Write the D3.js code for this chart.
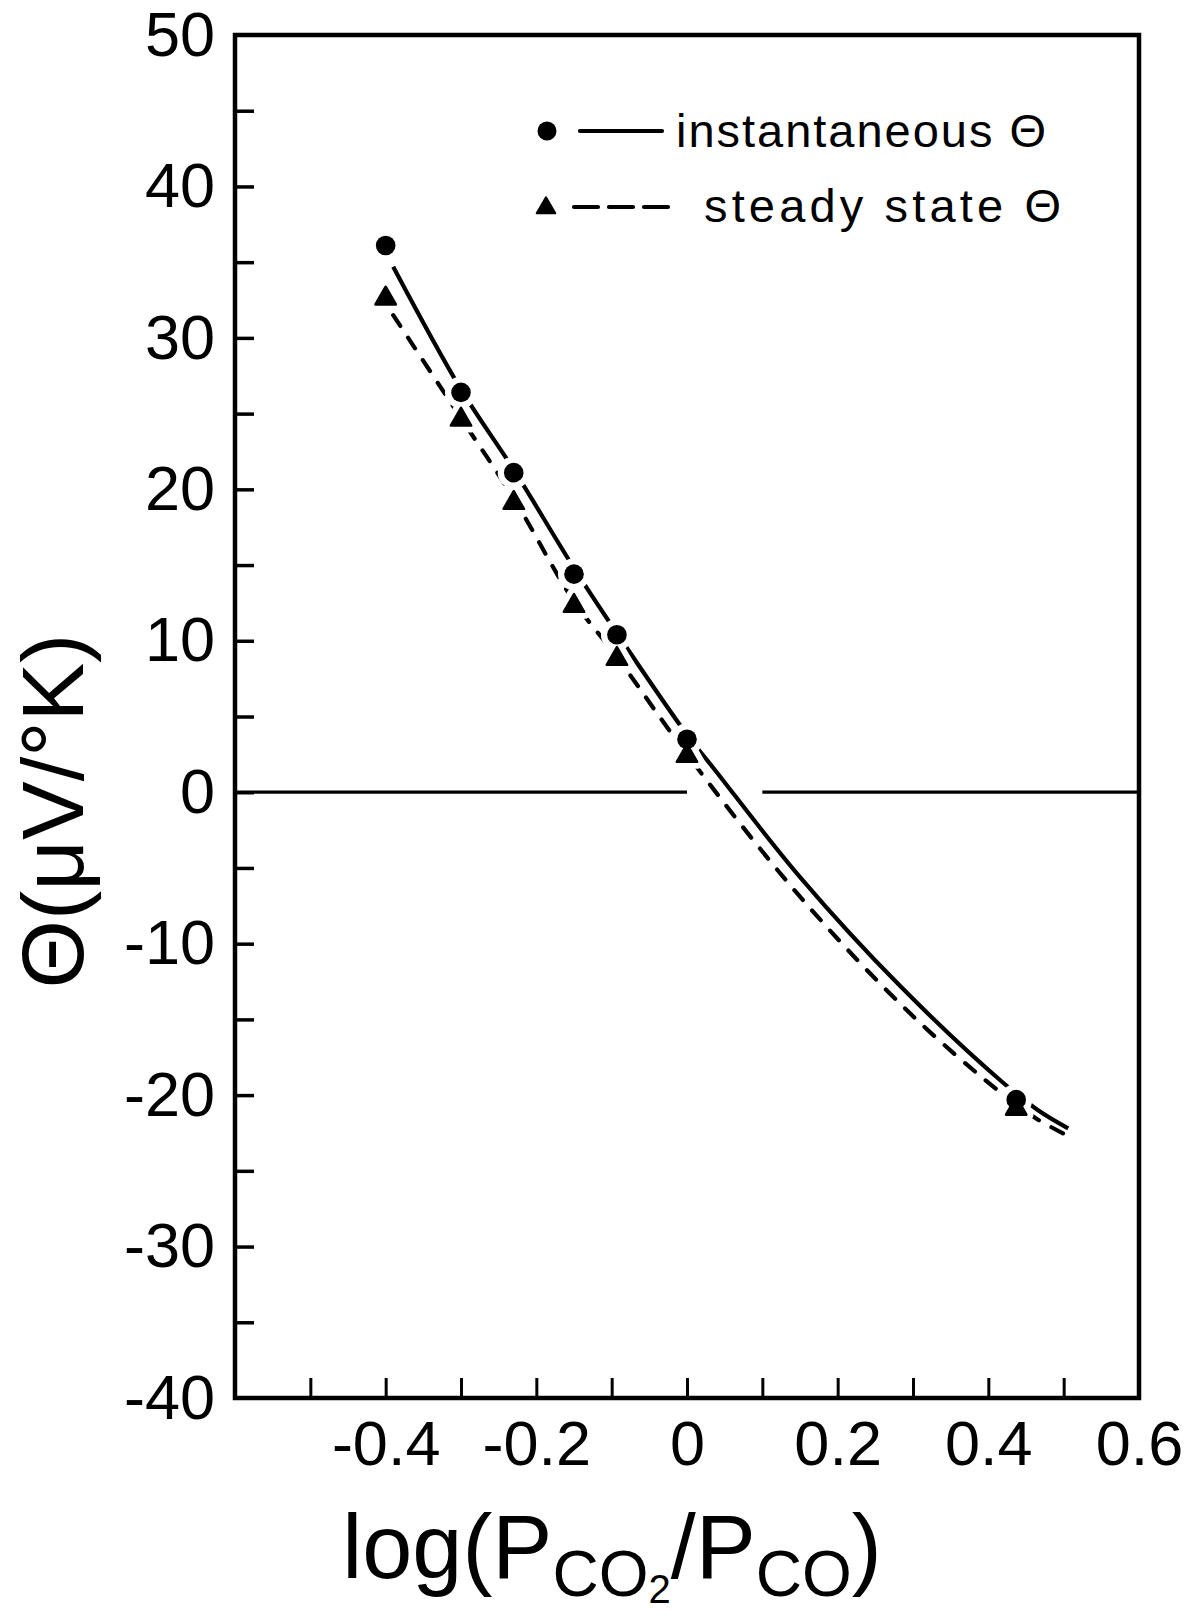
<!DOCTYPE html>
<html>
<head>
<meta charset="utf-8">
<script src="https://cdn.jsdelivr.net/npm/d3@7"></script>
<style>
  html, body { margin: 0; padding: 0; background: #fff; }
  text { font-family: "Liberation Sans", Arial, sans-serif; fill: #000; }
</style>
</head>
<body>
<script>
// measured points, log(Pco2/Pco) vs theta (uV/K)
const pointX        = [-0.40, -0.30, -0.23, -0.15, -0.093, 0.0, 0.437];
const instantaneous = [36.1, 26.4, 21.1, 14.4, 10.4, 3.5, -20.3];
const steadyState   = [32.6, 24.6, 19.1, 12.3, 8.8, 2.4, -20.9];

// hand drawn curves
const instCurveX   = [-0.39, -0.30, -0.23, -0.15, -0.093, 0.0, 0.035, 0.15, 0.283, 0.42, 0.466, 0.506];
const instCurveY   = [34.7, 26.6, 21.3, 14.8, 10.5, 3.8, 1.6, -5.6, -12.8, -19.2, -21.0, -22.2];
const steadyCurveX = [-0.39, -0.30, -0.23, -0.15, -0.094, 0.0, 0.15, 0.296, 0.413, 0.462, 0.502];
const steadyCurveY = [31.5, 24.7, 19.4, 12.6, 9.0, 2.5, -6.9, -14.6, -19.7, -21.5, -22.6];

// zero reference line (broken where the curves cross)
const zeroSegments = [[-0.6, 0.0], [0.1, 0.6]];

const xTicks  = [-0.5, -0.4, -0.3, -0.2, -0.1, 0, 0.1, 0.2, 0.3, 0.4, 0.5];
const xLabels = [-0.4, -0.2, 0, 0.2, 0.4, 0.6];
const yTicks  = [-35, -30, -25, -20, -15, -10, -5, 0, 5, 10, 15, 20, 25, 30, 35, 40, 45];
const yLabels = [-40, -30, -20, -10, 0, 10, 20, 30, 40, 50];

const W = 1195, H = 1616;
const frame = {left: 235, top: 35, right: 1139, bottom: 1398};

const svg = d3.select("body").append("svg")
  .attr("width", W).attr("height", H);

const x = d3.scaleLinear().domain([-0.6, 0.6]).range([frame.left, frame.right]);
const y = d3.scaleLinear().domain([-40, 50]).range([frame.bottom, frame.top]);

// axes: inward ticks, big labels
svg.append("g")
  .attr("transform", `translate(0,${frame.bottom})`)
  .call(d3.axisBottom(x).tickValues(xTicks).tickSize(-20).tickFormat(""))
  .call(g => g.select(".domain").remove())
  .selectAll("line").attr("stroke-width", 3);

svg.append("g")
  .attr("transform", `translate(0,${frame.bottom})`)
  .call(d3.axisBottom(x).tickValues(xLabels).tickSize(0).tickPadding(22).tickFormat(d => String(d)))
  .call(g => g.select(".domain").remove())
  .selectAll("text").attr("font-size", 63);

svg.append("g")
  .attr("transform", `translate(${frame.left},0)`)
  .call(d3.axisLeft(y).tickValues(yTicks).tickSize(-19).tickFormat(""))
  .call(g => g.select(".domain").remove())
  .selectAll("line").attr("stroke-width", 3.5);

svg.append("g")
  .attr("transform", `translate(${frame.left},0)`)
  .call(d3.axisLeft(y).tickValues(yLabels).tickSize(0).tickPadding(20).tickFormat(d => String(d)))
  .call(g => g.select(".domain").remove())
  .selectAll("text").attr("font-size", 63);

// frame
svg.append("rect")
  .attr("x", frame.left).attr("y", frame.top)
  .attr("width", frame.right - frame.left).attr("height", frame.bottom - frame.top)
  .attr("fill", "none").attr("stroke", "#000").attr("stroke-width", 4.5);

// zero line
const seg = d3.line().x(d => x(d)).y(() => y(0));
svg.selectAll(".zero").data(zeroSegments).enter().append("path")
  .attr("d", seg)
  .attr("fill", "none").attr("stroke", "#000").attr("stroke-width", 3.2);

// curves
const curve = d3.line().x(d => x(d[0])).y(d => y(d[1])).curve(d3.curveCatmullRom);
svg.append("path")
  .attr("d", curve(d3.zip(instCurveX, instCurveY)))
  .attr("fill", "none").attr("stroke", "#000").attr("stroke-width", 4.2);
svg.append("path")
  .attr("d", curve(d3.zip(steadyCurveX, steadyCurveY)))
  .attr("fill", "none").attr("stroke", "#000").attr("stroke-width", 4.2)
  .attr("stroke-linecap", "round").attr("stroke-dasharray", "13,14");

// markers, with a white halo so lines break around them
const tri = d3.symbol().type(d3.symbolTriangle).size(180);
const circPts = d3.zip(pointX, instantaneous);
const triPts = d3.zip(pointX, steadyState);

svg.selectAll(".haloC").data(circPts).enter().append("circle")
  .attr("cx", d => x(d[0])).attr("cy", d => y(d[1])).attr("r", 16)
  .attr("fill", "#fff");
svg.selectAll(".haloT").data(triPts).enter().append("path")
  .attr("d", tri).attr("transform", d => `translate(${x(d[0])},${y(d[1])})`)
  .attr("fill", "#fff").attr("stroke", "#fff").attr("stroke-width", 14).attr("stroke-linejoin", "round");

svg.selectAll(".dot").data(circPts).enter().append("circle")
  .attr("cx", d => x(d[0])).attr("cy", d => y(d[1])).attr("r", 9.8)
  .attr("fill", "#000");
svg.selectAll(".tri").data(triPts).enter().append("path")
  .attr("d", tri).attr("transform", d => `translate(${x(d[0])},${y(d[1])})`)
  .attr("fill", "#000").attr("stroke", "#000").attr("stroke-width", 2.5).attr("stroke-linejoin", "round");

// legend
const leg = svg.append("g");
leg.append("circle").attr("cx", 547).attr("cy", 131).attr("r", 9.5).attr("fill", "#000");
leg.append("line").attr("x1", 580).attr("x2", 662).attr("y1", 131).attr("y2", 131)
  .attr("stroke", "#000").attr("stroke-width", 4.2).attr("stroke-linecap", "round");
leg.append("text").attr("x", 676).attr("y", 147).attr("font-size", 47)
  .attr("textLength", 370).attr("lengthAdjust", "spacing").text("instantaneous \u0398");

leg.append("path").attr("d", d3.symbol().type(d3.symbolTriangle).size(150))
  .attr("transform", "translate(546,208)").attr("fill", "#000")
  .attr("stroke", "#000").attr("stroke-width", 2).attr("stroke-linejoin", "round");
leg.append("line").attr("x1", 574).attr("x2", 668).attr("y1", 207).attr("y2", 207)
  .attr("stroke", "#000").attr("stroke-width", 4.2).attr("stroke-linecap", "round")
  .attr("stroke-dasharray", "24,11");
leg.append("text").attr("x", 704).attr("y", 222).attr("font-size", 47)
  .attr("textLength", 357).attr("lengthAdjust", "spacing").text("steady  state \u0398");

// axis titles
svg.append("text")
  .attr("transform", "translate(83,811) rotate(-90)")
  .attr("text-anchor", "middle").attr("font-size", 88)
  .text("\u0398(\u03bcV/\u00b0K)");

const xt = svg.append("text")
  .attr("x", 612).attr("y", 1578).attr("text-anchor", "middle").attr("font-size", 90);
xt.append("tspan").text("log(P");
xt.append("tspan").attr("font-size", 64).attr("dy", 18).text("CO");
xt.append("tspan").attr("font-size", 40).attr("dy", 7).text("2");
xt.append("tspan").attr("font-size", 90).attr("dy", -25).text("/P");
xt.append("tspan").attr("font-size", 64).attr("dy", 18).text("CO");
xt.append("tspan").attr("font-size", 90).attr("dy", -18).text(")");
</script>
</body>
</html>
